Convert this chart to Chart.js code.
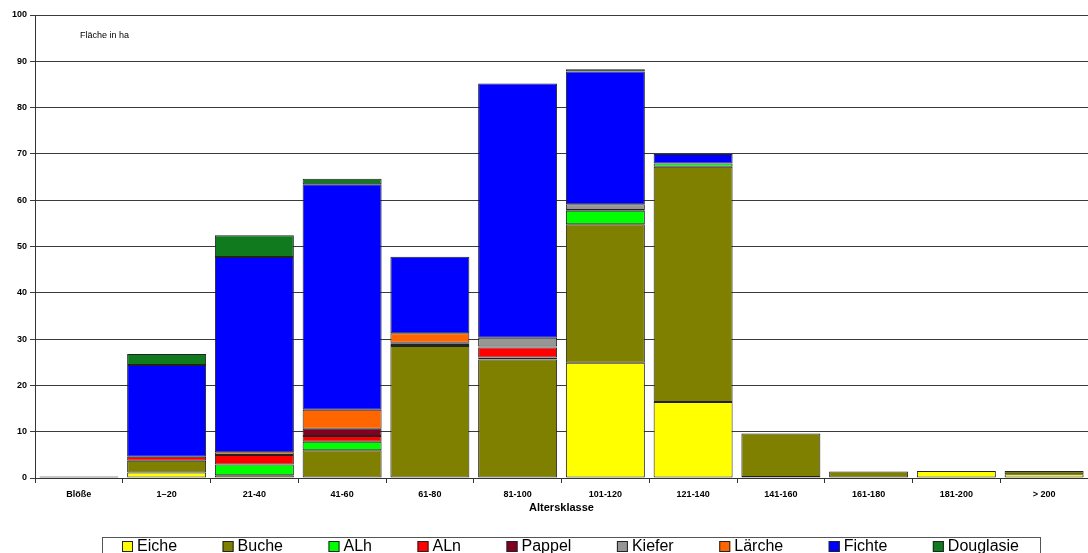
<!DOCTYPE html>
<html>
<head>
<meta charset="utf-8">
<script src="https://cdn.jsdelivr.net/npm/chart.js@4/dist/chart.umd.min.js"></script>
<style>
  html, body { margin: 0; padding: 0; background: #fff; }
  #wrap { width: 1088px; height: 553px; position: relative; }
</style>
</head>
<body>
<div id="wrap"><canvas id="c" width="1088" height="553"></canvas></div>
<script>
// Age classes (Altersklassen)
const categories = ['Blöße', '1–20', '21-40', '41-60', '61-80', '81-100', '101-120', '121-140', '141-160', '161-180', '181-200', '> 200'];

// Area in ha per tree species and age class
const eiche     = [0,   1.2, 0.6, 0,    0,    0,    24.9, 16.4, 0.2, 0,   1.5, 0.8];
const buche     = [0.3, 2.5, 0,   6.0,  28.5, 25.6, 29.9, 50.8, 9.4, 1.4, 0,   0.7];
const alh       = [0,   0,   2.3, 1.85, 0.2,  0.4,  2.9,  0.7,  0,   0,   0,   0];
const aln       = [0,   0.9, 2.05,1.2,  0.3,  2.2,  0,    0,    0,   0,   0,   0];
const pappel    = [0,   0,   0,   1.6,  0.2,  0.2,  0.2,  0,    0,   0,   0,   0];
const kiefer    = [0,   0,   0,   0,    0,    1.9,  1.2,  0,    0,   0,   0,   0];
const laerche   = [0,   0,   0.6, 4.1,  2.05, 0,    0,    0,    0,   0,   0,   0];
const fichte    = [0,   19.8,42.2,48.7, 16.55,54.9, 28.7, 2.1,  0,   0,   0,   0];
const douglasie = [0,   2.4, 4.7, 1.2,  0,    0,    0.5,  0,    0,   0,   0,   0];

// Y axis ticks
const yTicks = [0, 10, 20, 30, 40, 50, 60, 70, 80, 90, 100];

const FONT = 'Arial, "Liberation Sans", sans-serif';

const series = [
  { label: 'Eiche',     data: eiche,     color: '#ffff00' },
  { label: 'Buche',     data: buche,     color: '#808000' },
  { label: 'ALh',       data: alh,       color: '#00ff00' },
  { label: 'ALn',       data: aln,       color: '#ff0000' },
  { label: 'Pappel',    data: pappel,    color: '#800020' },
  { label: 'Kiefer',    data: kiefer,    color: '#969696' },
  { label: 'Lärche',    data: laerche,   color: '#ff6600' },
  { label: 'Fichte',    data: fichte,    color: '#0000ff' },
  { label: 'Douglasie', data: douglasie, color: '#0f7a1e' }
];

// Unit label in the upper left of the plot
const unitLabel = {
  id: 'unitLabel',
  afterDraw(chart) {
    const { ctx, chartArea } = chart;
    ctx.save();
    ctx.font = '9px ' + FONT;
    ctx.fillStyle = '#000';
    ctx.textBaseline = 'middle';
    ctx.fillText('Fläche in ha', chartArea.left + 45, chartArea.top + 21);
    ctx.restore();
  }
};

// Framed legend row below the axis
const boxedLegend = {
  id: 'boxedLegend',
  afterDraw(chart) {
    const { ctx } = chart;
    const boxL = 102, boxR = 1040, boxT = 537, boxB = 558;
    const innerL = 122, innerR = 1019;
    const sw = 11, tg = 4;
    ctx.save();
    ctx.strokeStyle = '#555';
    ctx.lineWidth = 1;
    ctx.strokeRect(boxL + 0.5, boxT + 0.5, boxR - boxL, boxB - boxT);
    ctx.font = '16px ' + FONT;
    const ds = chart.data.datasets;
    const widths = ds.map(d => sw + tg + ctx.measureText(d.label).width);
    const total = widths.reduce((a, b) => a + b, 0);
    const gap = (innerR - innerL - total) / (ds.length - 1);
    let x = innerL;
    const cy = 546;
    ds.forEach((d, i) => {
      ctx.fillStyle = d.backgroundColor;
      ctx.fillRect(x, cy - 5, sw, sw);
      ctx.strokeStyle = '#222';
      ctx.strokeRect(x + 0.5, cy - 5 + 0.5, sw - 1, sw - 1);
      ctx.fillStyle = '#000';
      ctx.textBaseline = 'middle';
      ctx.fillText(d.label, x + sw + tg, cy + 1);
      x += widths[i] + gap;
    });
    ctx.restore();
  }
};

new Chart(document.getElementById('c'), {
  type: 'bar',
  data: {
    labels: categories,
    // empty segments are left out so they draw no border line
    datasets: series.map(s => ({
      label: s.label,
      data: s.data.map(v => (v === 0 ? null : v)),
      backgroundColor: s.color,
      borderColor: '#222',
      borderWidth: 1,
      borderSkipped: false,
      barPercentage: 0.9,
      categoryPercentage: 1.0
    }))
  },
  options: {
    responsive: false,
    animation: false,
    devicePixelRatio: 1,
    layout: { padding: { top: 15, right: 0, bottom: 38, left: 0 } },
    plugins: {
      legend: { display: false },
      tooltip: { enabled: false },
      title: { display: false }
    },
    scales: {
      x: {
        stacked: true,
        offset: true,
        grid: {
          offset: true,
          drawOnChartArea: false,
          drawTicks: true,
          tickLength: 5,
          color: '#333'
        },
        border: { display: true, color: '#333', width: 1 },
        ticks: {
          color: '#000',
          font: { family: FONT, size: 9, weight: 'bold' },
          padding: 6,
          maxRotation: 0,
          autoSkip: false
        },
        title: {
          display: true,
          text: 'Altersklasse',
          color: '#000',
          font: { family: FONT, size: 11, weight: 'bold' },
          padding: { top: 0, bottom: 0 }
        },
        afterFit(scale) { scale.height = 37; }
      },
      y: {
        stacked: true,
        min: 0,
        max: 100,
        afterBuildTicks(scale) { scale.ticks = yTicks.map(v => ({ value: v })); },
        grid: {
          color: '#3a3a3a',
          lineWidth: 1,
          drawTicks: true,
          tickLength: 5
        },
        border: { display: true, color: '#333', width: 1 },
        ticks: {
          color: '#000',
          font: { family: FONT, size: 9, weight: 'bold' },
          padding: 3
        },
        afterFit(scale) { scale.width = 35; }
      }
    }
  },
  plugins: [unitLabel, boxedLegend]
});
</script>
</body>
</html>
